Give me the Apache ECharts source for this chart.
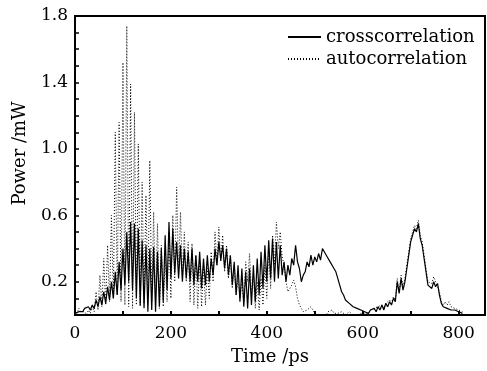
<!DOCTYPE html>
<html>
<head>
<meta charset="utf-8">
<script src="https://cdn.jsdelivr.net/npm/echarts@6/dist/echarts.min.js"></script>
<style>html,body{margin:0;padding:0;background:#fff;}#c{width:487px;height:371px;}</style>
</head>
<body>
<div id="c"></div>
<script>
// Sampling of time axis (ps)
var timeStart = 0;
var timeStep = 4;

// crosscorrelation (solid), values in mW at t = 0,4,8,...
var crossValues = [
  0.01,0.02,0.02,0.03,0.02,0.04,0.03,0.05,0.03,0.06,
  0.04,0.09,0.05,0.11,0.06,0.14,0.07,0.17,0.09,0.20,
  0.10,0.26,0.12,0.32,0.15,0.40,0.18,0.50,0.20,0.56,
  0.15,0.55,0.10,0.52,0.06,0.45,0.04,0.42,0.02,0.40,
  0.03,0.41,0.02,0.38,0.05,0.40,0.08,0.48,0.15,0.56,
  0.22,0.52,0.25,0.44,0.22,0.42,0.20,0.40,0.22,0.38,
  0.20,0.40,0.18,0.36,0.20,0.38,0.16,0.34,0.18,0.36,
  0.20,0.34,0.24,0.40,0.30,0.44,0.33,0.42,0.28,0.40,
  0.24,0.36,0.18,0.32,0.12,0.30,0.08,0.28,0.05,0.26,
  0.04,0.28,0.06,0.30,0.08,0.34,0.12,0.38,0.16,0.42,
  0.20,0.45,0.22,0.46,0.20,0.44,0.22,0.42,0.24,0.32,
  0.20,0.30,0.24,0.34,0.30,0.42,0.32,0.28,0.20,0.24,
  0.26,0.32,0.29,0.36,0.30,0.35,0.32,0.37,0.33,0.40,
  0.41,0.36,0.37,0.32,0.33,0.28,0.26,0.22,0.18,0.14,
  0.12,0.09,0.10,0.07,0.08,0.05,0.06,0.04,0.05,0.03,
  0.04,0.02,0.03,0.01,0.03,0.02,0.04,0.02,0.05,0.03,
  0.06,0.03,0.07,0.05,0.08,0.06,0.10,0.08,0.20,0.13,
  0.22,0.15,0.20,0.28,0.36,0.44,0.48,0.52,0.50,0.55,
  0.46,0.42,0.34,0.26,0.18,0.19,0.16,0.20,0.17,0.19,
  0.12,0.07,0.05,0.06,0.04,0.05,0.03,0.04,0.03,0.04,
  0.02,0.03,0.01
];

// autocorrelation (dotted), values in mW at t = 0,4,8,...
var autoValues = [
  0.03,0.01,0.04,0.02,0.01,0.02,0.00,0.03,0.01,0.05,
  0.02,0.14,0.03,0.24,0.05,0.34,0.06,0.42,0.08,0.60,
  0.10,1.10,0.12,1.16,0.08,1.52,0.06,1.74,0.05,1.39,
  0.04,1.22,0.06,1.03,0.05,0.80,0.07,0.72,0.10,0.93,
  0.08,0.62,0.06,0.55,0.04,0.42,0.05,0.35,0.08,0.50,
  0.10,0.60,0.20,0.77,0.25,0.62,0.22,0.50,0.20,0.44,
  0.08,0.43,0.06,0.36,0.04,0.32,0.05,0.30,0.06,0.28,
  0.10,0.38,0.20,0.50,0.30,0.53,0.32,0.48,0.26,0.42,
  0.22,0.36,0.16,0.30,0.12,0.22,0.10,0.20,0.08,0.32,
  0.20,0.37,0.12,0.24,0.04,0.20,0.03,0.22,0.06,0.30,
  0.10,0.40,0.16,0.48,0.30,0.56,0.40,0.50,0.35,0.30,
  0.20,0.14,0.16,0.18,0.21,0.17,0.10,0.06,0.04,0.02,
  0.01,0.03,0.04,0.05,0.03,0.01,0.01,0.00,0.01,0.00,
  0.01,0.00,0.02,0.01,0.03,0.01,0.00,0.01,0.00,0.02,
  0.01,0.00,0.01,0.02,0.01,0.00,0.01,0.00,0.01,0.01,
  0.00,0.01,0.02,0.01,0.03,0.02,0.04,0.03,0.05,0.04,
  0.06,0.04,0.07,0.06,0.09,0.07,0.11,0.09,0.22,0.14,
  0.24,0.17,0.22,0.30,0.38,0.46,0.50,0.54,0.52,0.57,
  0.48,0.44,0.36,0.28,0.20,0.21,0.19,0.23,0.20,0.21,
  0.14,0.08,0.06,0.08,0.06,0.08,0.05,0.06,0.04,0.05,
  0.03,0.02,0.02
];

var seriesNames = ['crosscorrelation', 'autocorrelation'];
var xTickLabels = [0, 200, 400, 600, 800];
var yTickLabels = [0.2, 0.6, 1.0, 1.4, 1.8];

function toPairs(vals) {
  return vals.map(function (v, i) { return [timeStart + i * timeStep, v]; });
}

var FONT = 'DejaVu Serif';
var chart = echarts.init(document.getElementById('c'), null, {renderer: 'canvas'});
chart.setOption({
  animation: false,
  backgroundColor: '#fff',
  grid: {left: 75, right: 2, top: 16, bottom: 50, show: true, borderColor: '#000', borderWidth: 2, backgroundColor: 'transparent'},
  legend: {
    orient: 'vertical', left: 287, top: 28, padding: 0,
    itemWidth: 33, itemHeight: 12, itemGap: 4,
    data: seriesNames,
    itemStyle: {opacity: 0},
    textStyle: {fontFamily: FONT, fontSize: 18, color: '#000', lineHeight: 18}
  },
  xAxis: {
    type: 'value', min: 0, max: 855, interval: 100,
    name: 'Time /ps', nameLocation: 'middle', nameGap: 33,
    nameTextStyle: {fontFamily: FONT, fontSize: 18, color: '#000', padding: [0, 20, 0, 0]},
    axisLine: {show: true, lineStyle: {color: '#000', width: 2}},
    axisTick: {show: true, inside: true, length: 4, lineStyle: {color: '#000', width: 2}},
    splitLine: {show: false},
    axisLabel: {
      fontFamily: FONT, fontSize: 17, color: '#000', margin: 10, showMaxLabel: false,
      formatter: function (v) { return xTickLabels.indexOf(Math.round(v)) >= 0 ? String(Math.round(v)) : ''; }
    }
  },
  yAxis: {
    type: 'value', min: 0, max: 1.8, interval: 0.1,
    name: 'Power /mW', nameLocation: 'middle', nameGap: 46, nameRotate: 90,
    nameTextStyle: {fontFamily: FONT, fontSize: 18, color: '#000', padding: [0, 0, 0, 24]},
    axisLine: {show: true, lineStyle: {color: '#000', width: 2}},
    axisTick: {show: true, inside: true, length: 4, lineStyle: {color: '#000', width: 1.5}},
    splitLine: {show: false},
    axisLabel: {
      fontFamily: FONT, fontSize: 17, color: '#000', margin: 7,
      formatter: function (v) {
        var k = Math.round(v * 10);
        for (var i = 0; i < yTickLabels.length; i++) {
          if (Math.round(yTickLabels[i] * 10) === k) return yTickLabels[i].toFixed(1);
        }
        return '';
      }
    }
  },
  series: [
    {
      name: seriesNames[0], type: 'line', symbol: 'none', data: toPairs(crossValues),
      lineStyle: {color: '#000', width: 1.2, type: 'solid'}, itemStyle: {color: '#000'}, z: 3
    },
    {
      name: seriesNames[1], type: 'line', symbol: 'none', data: toPairs(autoValues),
      lineStyle: {color: '#000', width: 1, type: [1, 2]}, itemStyle: {color: '#000'}, z: 2
    }
  ]
});
</script>
</body>
</html>
